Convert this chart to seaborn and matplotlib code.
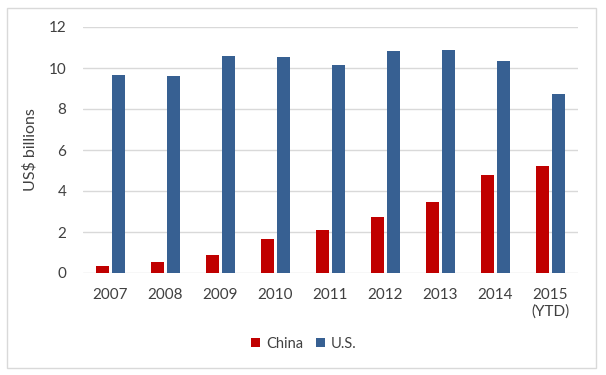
import pandas as pd
import seaborn as sns
import matplotlib
matplotlib.use('Agg')
import matplotlib.pyplot as plt
from matplotlib.patches import Rectangle

years = ['2007', '2008', '2009', '2010', '2011', '2012', '2013', '2014', '2015\n(YTD)']
china = [0.34, 0.53, 0.89, 1.65, 2.10, 2.74, 3.48, 4.78, 5.22]
us = [9.65, 9.62, 10.59, 10.54, 10.15, 10.83, 10.90, 10.35, 8.71]
series = ['China', 'U.S.']
colors = ['#C00000', '#376092']

sns.set_theme(style='white')
plt.rcParams['font.family'] = ['Lato', 'DejaVu Sans']
text_col = '#404040'

df = pd.DataFrame({
    'year': years * 2,
    'value': china + us,
    'series': ['China'] * len(years) + ['U.S.'] * len(years),
})

fig = plt.figure(figsize=(6.06, 3.75), dpi=100)
ax = fig.add_axes([83 / 606, 1 - 273 / 375, 495 / 606, 246 / 375])

sns.barplot(data=df, x='year', y='value', hue='series', hue_order=series,
            palette=colors, width=0.576, gap=0.22, saturation=1, ax=ax,
            edgecolor='none')

ax.set_ylim(0, 12)
ax.set_yticks(range(0, 13, 2))
ax.set_xlim(-0.5, len(years) - 0.5)
ax.yaxis.grid(True, color='#D9D9D9', linewidth=1)
ax.set_axisbelow(True)
for s in ax.spines.values():
    s.set_visible(False)
ax.tick_params(axis='both', length=0, labelsize=11, colors=text_col)
ax.tick_params(axis='x', pad=11)
ax.tick_params(axis='y', pad=12)
ax.set_xlabel('')
ax.set_ylabel('US$ billions', fontsize=11.5, color=text_col, labelpad=8)

leg = ax.legend(loc='center', bbox_to_anchor=(304 / 606, 1 - 344 / 375),
                bbox_transform=fig.transFigure, ncol=2, frameon=False,
                fontsize=10.5, handlelength=0.6, handleheight=0.6,
                handletextpad=0.4, columnspacing=0.9)
for t in leg.get_texts():
    t.set_color(text_col)

fig.patches.append(Rectangle((7 / 606, 1 - 368 / 375), 589 / 606, 360 / 375,
                             transform=fig.transFigure, fill=False,
                             edgecolor='#D9D9D9', linewidth=1))

fig.savefig('out.png', dpi=100)
